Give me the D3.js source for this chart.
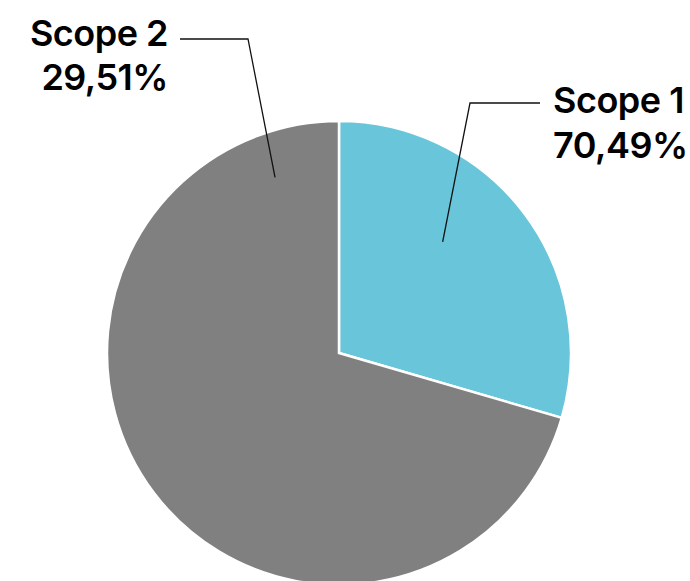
<!DOCTYPE html>
<html><head><meta charset="utf-8">
<script src="https://cdn.jsdelivr.net/npm/d3@7"></script>
<style>html,body{margin:0;padding:0;background:#fff;}svg{display:block;}</style>
</head><body>
<svg id="chart" width="690" height="581"></svg>
<script>
// Data (as shown in the reference; slice sizes and printed labels kept as drawn)
const categories = ["Scope 1", "Scope 2"];
const sliceValues = [29.51, 70.49];
const labelPercents = ["70,49%", "29,51%"];
const colors = ["#69C5DA", "#808080"];

const svg = d3.select("#chart");
const cx = 339, cy = 353, R = 232;
const g = svg.append("g").attr("transform", `translate(${cx},${cy})`);

const pie = d3.pie().sort(null).value(d => d.v);
const arcs = pie(categories.map((c, i) => ({c, v: sliceValues[i], i})));
const arc = d3.arc().innerRadius(0).outerRadius(R);

g.selectAll("path").data(arcs).join("path")
  .attr("d", arc)
  .attr("fill", d => colors[d.data.i])
  .attr("stroke", "#fff")
  .attr("stroke-width", 2.5)
  .attr("stroke-linejoin", "miter");

// Label layout
const layout = [
  {angle: 43 * Math.PI/180, r: 152, elbow: [470, 103], end: [540, 103], tx: 553, anchor: "start", y1: 113, y2: 158},
  {angle: -20 * Math.PI/180, r: 187, elbow: [248, 39], end: [180, 39], tx: 168, anchor: "end", y1: 46, y2: 90}
];

arcs.forEach((a, k) => {
  const L = layout[a.data.i];
  const p = d3.pointRadial(L.angle, L.r);
  const start = [cx + p[0], cy + p[1]];
  svg.append("path")
    .attr("d", d3.line()([start, L.elbow, L.end]))
    .attr("fill", "none").attr("stroke", "#111").attr("stroke-width", 1.3);
  const t = svg.append("text")
    .attr("text-anchor", L.anchor)
    .attr("font-family", "Inter, 'Noto Sans', sans-serif")
    .attr("font-weight", 600)
    .attr("font-size", 36)
    .attr("fill", "#000")
    .attr("letter-spacing", -0.5);
  t.append("tspan").attr("x", L.tx).attr("y", L.y1).text(a.data.c);
  t.append("tspan").attr("x", L.tx).attr("y", L.y2).text(labelPercents[a.data.i]);
});
</script>
</body></html>
